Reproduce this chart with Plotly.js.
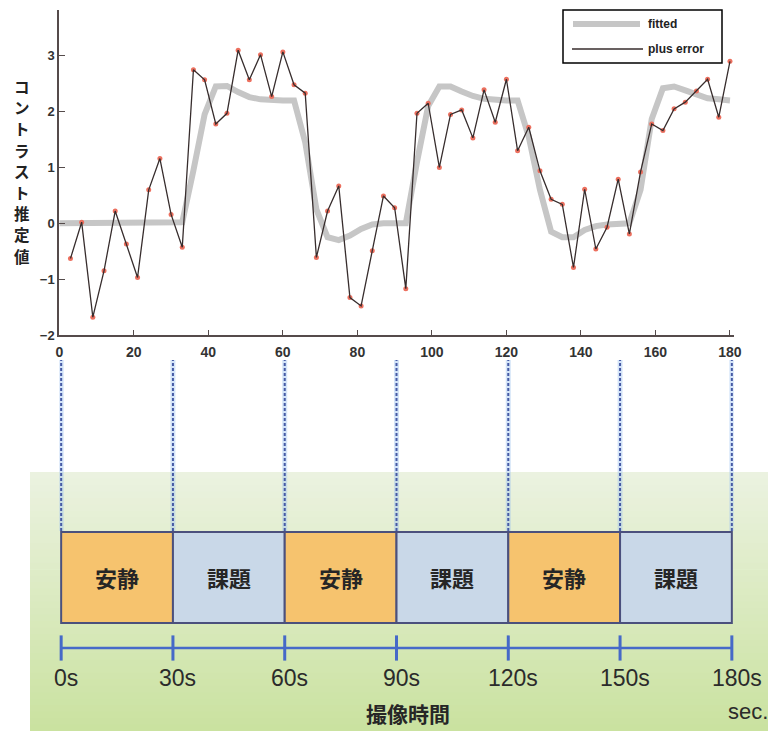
<!DOCTYPE html>
<html>
<head>
<meta charset="utf-8">
<script src="https://cdn.plot.ly/plotly-3.0.1.min.js"></script>
<style>html,body{margin:0;padding:0;background:#fff;}#chart{width:768px;height:731px;}</style>
</head>
<body>
<div id="chart"></div>
<script>
// ---- data ----
const sampleTimes = [3,6,9,12,15,18,21,24,27,30,33,36,39,42,45,48,51,54,57,60,63,66,69,72,75,78,81,84,87,90,93,96,99,102,105,108,111,114,117,120,123,126,129,132,135,138,141,144,147,150,153,156,159,162,165,168,171,174,177,180];
const plusError = [-0.63,0.02,-1.68,-0.85,0.22,-0.37,-0.97,0.60,1.16,0.16,-0.43,2.75,2.57,1.78,1.97,3.10,2.57,3.02,2.27,3.07,2.48,2.33,-0.61,0.22,0.67,-1.33,-1.48,-0.49,0.49,0.28,-1.17,1.97,2.15,1.00,1.95,2.03,1.53,2.39,1.81,2.58,1.30,1.72,0.94,0.43,0.34,-0.79,0.61,-0.46,-0.07,0.79,-0.19,0.92,1.78,1.66,2.05,2.17,2.37,2.58,1.90,2.90];
const fitTimes = [0,3,6,9,12,15,18,21,24,27,30,33,36,39,42,45,48,51,54,57,60,63,66,69,72,75,78,81,84,87,90,93,96,99,102,105,108,111,114,117,120,123,126,129,132,135,138,141,144,147,150,153,156,159,162,165,168,171,174,177,180];
const fitted = [0,0,0,0,0,0,0,0,0,0,0,0.02,0.95,1.95,2.45,2.46,2.35,2.26,2.22,2.20,2.20,2.20,1.45,0.25,-0.25,-0.30,-0.22,-0.10,-0.02,0,0,0,1.10,2.10,2.45,2.45,2.36,2.28,2.23,2.21,2.20,2.20,1.55,0.60,-0.15,-0.25,-0.25,-0.12,-0.05,-0.02,0,0,0.60,1.87,2.42,2.45,2.38,2.30,2.24,2.22,2.20];
const xTicks = [0,20,40,60,80,100,120,140,160,180];
const yTicks = [-2,-1,0,1,2,3];
const phaseStarts = [0,30,60,90,120,150];
const phaseLabels = ['安静','課題','安静','課題','安静','課題'];
const boundaryTimes = [0,30,60,90,120,150,180];
const boundaryLabels = ['0s','30s','60s','90s','120s','150s','180s'];
const yTitleText = 'コントラスト推定値';
const legendNames = ['fitted','plus error'];

// ---- helpers ----
const W = 768, H = 731;
const px = p => p / W;
const py = p => 1 - p / H;
const jp = 'Noto Sans CJK JP';
const lat = 'Liberation Sans, Arial, sans-serif';

const traces = [
  {x: fitTimes, y: fitted, mode: 'lines', name: legendNames[0],
   line: {color: 'rgb(198,198,198)', width: 6}, xaxis: 'x', yaxis: 'y', hoverinfo: 'skip'},
  {x: sampleTimes, y: plusError, mode: 'markers', name: 'points', showlegend: false,
   marker: {color: 'rgb(236,112,95)', size: 5}, xaxis: 'x', yaxis: 'y', hoverinfo: 'skip'},
  {x: sampleTimes, y: plusError, mode: 'lines', name: legendNames[1],
   line: {color: 'rgb(55,45,45)', width: 1.3}, xaxis: 'x', yaxis: 'y', hoverinfo: 'skip'},
  {x: boundaryTimes, y: boundaryTimes.map(() => py(648)), mode: 'lines+markers', name: 'timeline', showlegend: false,
   line: {color: 'rgb(70,105,200)', width: 2.5},
   marker: {symbol: 'line-ns', size: 18, line: {color: 'rgb(70,105,200)', width: 3}},
   xaxis: 'x2', yaxis: 'y2', hoverinfo: 'skip', cliponaxis: false}
];

const shapes = [];
// green gradient background
const nBands = 40, gTop = 472, gBot = 731;
const c0 = [235,242,224], c1 = [202,226,160];
for (let i = 0; i < nBands; i++) {
  const f = i / (nBands - 1);
  const c = c0.map((v, k) => Math.round(v + (c1[k] - v) * f));
  const y0 = gTop + (gBot - gTop) * i / nBands;
  const y1 = gTop + (gBot - gTop) * (i + 1) / nBands;
  shapes.push({type: 'rect', xref: 'paper', yref: 'paper', x0: px(30), x1: 1, y0: py(y1) - 0.001, y1: py(y0),
    fillcolor: `rgb(${c.join(',')})`, line: {width: 0}, layer: 'below'});
}
// dashed guide lines
boundaryTimes.forEach(t => {
  shapes.push({type: 'line', xref: 'x2', yref: 'paper', x0: t, x1: t, y0: py(531), y1: py(360),
    line: {color: 'rgba(160,195,240,0.45)', width: 5}, layer: 'above'});
  shapes.push({type: 'line', xref: 'x2', yref: 'paper', x0: t, x1: t, y0: py(531), y1: py(360),
    line: {color: 'rgb(70,90,165)', width: 2, dash: '3px,2px'}, layer: 'above'});
});
// phase boxes
phaseStarts.forEach((s, i) => {
  shapes.push({type: 'rect', xref: 'x2', yref: 'paper', x0: s, x1: s + 30, y0: py(623), y1: py(532),
    fillcolor: phaseLabels[i] === '安静' ? 'rgb(246,195,110)' : 'rgb(201,216,232)',
    line: {color: 'rgb(75,80,125)', width: 2}, layer: 'above'});
});
// manual legend
shapes.push({type: 'rect', xref: 'paper', yref: 'paper', x0: px(563), x1: px(722), y0: py(63), y1: py(10),
  fillcolor: 'white', line: {color: 'black', width: 1.5}, layer: 'above'});
shapes.push({type: 'line', xref: 'paper', yref: 'paper', x0: px(573), x1: px(640), y0: py(24), y1: py(24),
  line: {color: 'rgb(198,198,198)', width: 6}, layer: 'above'});
shapes.push({type: 'line', xref: 'paper', yref: 'paper', x0: px(572), x1: px(643), y0: py(49), y1: py(49),
  line: {color: 'rgb(55,45,45)', width: 1.3}, layer: 'above'});

const annotations = [];
annotations.push({xref: 'paper', yref: 'paper', x: px(646), y: py(24), xanchor: 'left', yanchor: 'middle',
  text: legendNames[0], showarrow: false, font: {family: lat, size: 12, weight: 'bold', color: '#222'}});
annotations.push({xref: 'paper', yref: 'paper', x: px(646), y: py(49), xanchor: 'left', yanchor: 'middle',
  text: legendNames[1], showarrow: false, font: {family: lat, size: 12, weight: 'bold', color: '#222'}});
// y title: characters stacked vertically, one annotation each
const yChars = yTitleText.split('');
const yTop = 86, yStep = 21.2;
yChars.forEach((ch, i) => {
  annotations.push({xref: 'paper', yref: 'paper', x: px(22), y: py(yTop + i * yStep), xanchor: 'center', yanchor: 'middle',
    text: ch, showarrow: false, borderpad: 0, font: {family: jp, size: 15.5, weight: 'bold', color: '#222'}});
});
// phase labels
phaseStarts.forEach((s, i) => {
  annotations.push({xref: 'x2', yref: 'paper', x: s + 15, y: py(577), xanchor: 'center', yanchor: 'middle',
    text: phaseLabels[i], showarrow: false, font: {family: jp, size: 22, weight: 'bold', color: '#262626'}});
});
// time labels
boundaryTimes.forEach((t, i) => {
  annotations.push({xref: 'x2', yref: 'paper', x: t, y: py(678), xanchor: 'center', yanchor: 'middle', xshift: 5,
    text: boundaryLabels[i], showarrow: false, font: {family: lat, size: 23, color: '#2b2b2b'}});
});
annotations.push({xref: 'paper', yref: 'paper', x: px(408), y: py(713), xanchor: 'center', yanchor: 'middle',
  text: '撮像時間', showarrow: false, font: {family: jp, size: 21, weight: 'bold', color: '#262626'}});
annotations.push({xref: 'paper', yref: 'paper', x: px(726), y: py(711), xanchor: 'left', yanchor: 'middle',
  text: 'sec.', showarrow: false, font: {family: lat, size: 22, color: '#2b2b2b'}});

const axisColor = 'rgb(85,75,75)';
const layout = {
  width: W, height: H,
  margin: {l: 0, r: 0, t: 0, b: 0},
  paper_bgcolor: 'white', plot_bgcolor: 'rgba(0,0,0,0)',
  showlegend: false,
  xaxis: {domain: [px(59.3), px(733.7)], range: [0, 181], anchor: 'y',
    showline: true, linecolor: axisColor, linewidth: 2, ticks: 'inside', ticklen: 5, tickcolor: axisColor,
    tickvals: xTicks, tickfont: {family: lat, size: 14, weight: 'bold', color: '#333'}, ticklabelstandoff: 3,
    showgrid: false, zeroline: false, fixedrange: true},
  yaxis: {domain: [py(335), py(10)], range: [-2, 3.82], anchor: 'x',
    showline: true, linecolor: axisColor, linewidth: 2, ticks: 'inside', ticklen: 6, tickcolor: axisColor,
    tickvals: yTicks, tickfont: {family: lat, size: 13, weight: 'bold', color: '#333'},
    showgrid: false, zeroline: false, fixedrange: true},
  xaxis2: {domain: [px(59.3), px(733.7)], range: [-0.5, 180.5], anchor: 'y2', visible: false, fixedrange: true},
  yaxis2: {domain: [0, 1], range: [0, 1], anchor: 'x2', visible: false, fixedrange: true},
  shapes: shapes,
  annotations: annotations
};

Plotly.newPlot('chart', traces, layout, {staticPlot: true, displayModeBar: false});
</script>
</body>
</html>
